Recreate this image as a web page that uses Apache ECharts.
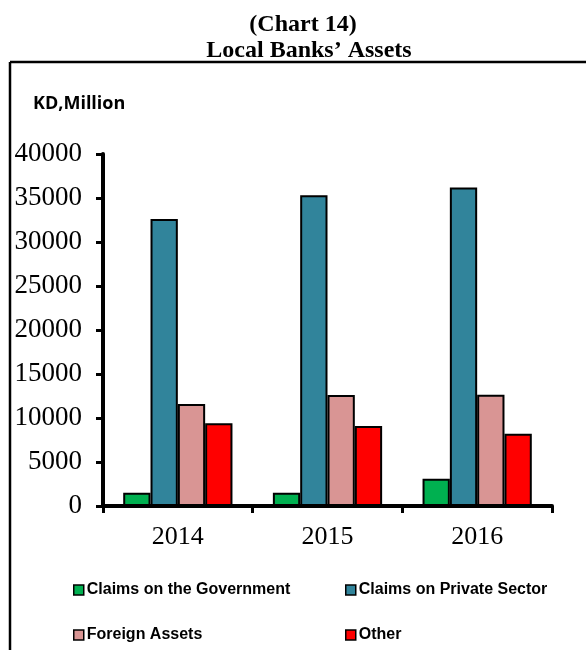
<!DOCTYPE html>
<html>
<head>
<meta charset="utf-8">
<script src="https://cdn.jsdelivr.net/npm/echarts@6/dist/echarts.min.js"></script>
<style>
html,body{margin:0;padding:0;background:#fff;}
#chart{width:586px;height:650px;}
</style>
</head>
<body>
<div id="chart"></div>
<script>
const categories = ['2014', '2015', '2016'];
const seriesNames = ['Claims on the Government', 'Claims on Private Sector', 'Foreign Assets', 'Other'];
const govClaims = [1500, 1500, 3100];
const privateClaims = [32600, 35300, 36200];
const foreignAssets = [11600, 12600, 12650];
const otherAssets = [9400, 9100, 8200];
const yTicks = [0, 5000, 10000, 15000, 20000, 25000, 30000, 35000, 40000];

const colors = ['#00B050', '#31849B', '#D99594', '#FF0000'];
const values = [govClaims, privateClaims, foreignAssets, otherAssets];

const chart = echarts.init(document.getElementById('chart'), null, {renderer: 'canvas'});

const legendPos = [
  {left: 73, top: 582},
  {left: 345, top: 582},
  {left: 73, top: 627},
  {left: 345, top: 627}
];

const option = {
  animation: false,
  backgroundColor: '#fff',
  title: [
    {text: '(Chart 14)', left: 298, top: 8, textAlign: 'center',
     textStyle: {fontFamily: 'Liberation Serif', fontWeight: 'bold', fontSize: 24, color: '#000'}},
    {text: 'Local Banks\u2019 Assets', left: 304, top: 34, textAlign: 'center',
     textStyle: {fontFamily: 'Liberation Serif', fontWeight: 'bold', fontSize: 24, color: '#000'}},
    {text: 'KD,Million', left: 28, top: 90,
     textStyle: {fontFamily: 'Open Sans', fontWeight: 'bold', fontSize: 18, color: '#000'}}
  ],
  legend: seriesNames.map((n, i) => ({
    data: [n],
    left: legendPos[i].left,
    top: legendPos[i].top,
    padding: 0,
    icon: 'rect',
    itemWidth: 10,
    itemHeight: 10,
    itemGap: 4,
    selectedMode: false,
    itemStyle: {borderColor: '#000', borderWidth: 1.5},
    textStyle: {fontFamily: 'Liberation Sans', fontWeight: 'bold', fontSize: 16, color: '#000', padding: [0, 0, 0, -2]}
  })),
  grid: {left: 103, right: 34, top: 154, bottom: 144, containLabel: false},
  xAxis: {
    type: 'category',
    data: categories,
    axisLine: {lineStyle: {color: '#000', width: 4}},
    axisTick: {show: true, length: 7, lineStyle: {color: '#000', width: 3}},
    axisLabel: {fontFamily: 'Liberation Serif', fontSize: 26, color: '#000', margin: 18}
  },
  yAxis: {
    type: 'value',
    min: 0,
    max: 40000,
    interval: 5000,
    axisLine: {show: true, lineStyle: {color: '#000', width: 4}},
    axisTick: {show: true, length: 7, lineStyle: {color: '#000', width: 3}},
    splitLine: {show: false},
    axisLabel: {fontFamily: 'Liberation Serif', fontSize: 27, color: '#000', margin: 21,
      formatter: v => yTicks.includes(v) ? String(v) : ''}
  },
  series: seriesNames.map((n, i) => ({
    name: n,
    type: 'bar',
    data: values[i],
    barGap: '0%',
    barCategoryGap: '27%',
    itemStyle: {color: colors[i], borderColor: '#000', borderWidth: 2}
  })),
  graphic: [
    {type: 'line', shape: {x1: 10, y1: 62, x2: 586, y2: 62}, style: {stroke: '#000', lineWidth: 2.5}},
    {type: 'line', shape: {x1: 10, y1: 62, x2: 10, y2: 650}, style: {stroke: '#000', lineWidth: 2.5}}
  ]
};
chart.setOption(option);
</script>
</body>
</html>
